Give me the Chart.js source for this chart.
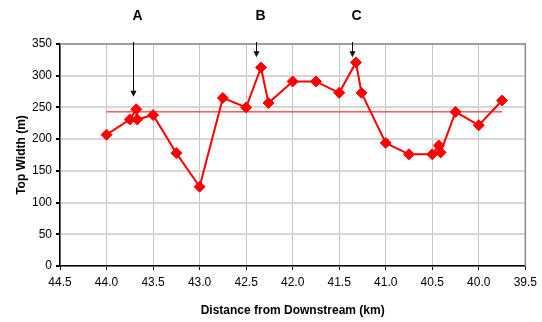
<!DOCTYPE html>
<html>
<head>
<meta charset="utf-8">
<script src="https://cdn.jsdelivr.net/npm/chart.js@4.4.0/dist/chart.umd.min.js"></script>
<style>
    body { margin: 0; background: #fff; }
    #wrap { width: 542px; height: 322px; }
</style>
</head>
<body>
<div id="wrap"><canvas id="myChart"></canvas></div>
<script>
/* values: distance (km) and top width (m) */
const distanceKm = [44.0, 43.75, 43.68, 43.67, 43.5, 43.25, 43.0, 42.75, 42.5, 42.34, 42.26, 42.0,
    41.75, 41.5, 41.32, 41.26, 41.0, 40.75, 40.5, 40.43, 40.41, 40.25, 40.0, 39.75];
const topWidth = [207, 231, 247, 231, 238, 178, 125, 265, 250, 313, 257, 291,
    291, 273, 321, 273, 194, 176, 176, 190, 179, 243, 222, 261];
const meanKm = [44.0, 39.75];
const meanWidth = [243, 243];
const markerNames = ['A', 'B', 'C'];
const markerKm = [43.72, 42.39, 41.36];
const markerTip = [267, 329, 329];
const xTicks = [44.5, 44.0, 43.5, 43.0, 42.5, 42.0, 41.5, 41.0, 40.5, 40.0, 39.5];

window.onload = function () {
    const fontName = '"Liberation Sans", Arial, sans-serif';

    const arrowsAndBox = {
        id: 'arrowsAndBox',
        afterDraw(chart) {
            const { ctx, chartArea: { top, bottom, left, right }, scales: { x, y } } = chart;
            ctx.save();
            // gray frame on top and right
            ctx.strokeStyle = '#8c8c8c';
            ctx.lineWidth = 1.5;
            ctx.beginPath();
            ctx.moveTo(left, top);
            ctx.lineTo(right, top);
            ctx.lineTo(right, bottom);
            ctx.stroke();

            ctx.strokeStyle = '#000';
            ctx.fillStyle = '#000';
            ctx.lineWidth = 1;
            for (let i = 0; i < markerNames.length; i++) {
                const px = Math.round(x.getPixelForValue(markerKm[i])) + 0.5;
                const tip = y.getPixelForValue(markerTip[i]);
                ctx.beginPath();
                ctx.moveTo(px, top - 2);
                ctx.lineTo(px, tip - 5);
                ctx.stroke();
                ctx.beginPath();
                ctx.moveTo(px - 3, tip - 6);
                ctx.lineTo(px + 3, tip - 6);
                ctx.lineTo(px, tip);
                ctx.closePath();
                ctx.fill();

                ctx.font = 'bold 14px ' + fontName;
                ctx.textAlign = 'center';
                ctx.textBaseline = 'middle';
                ctx.fillText(markerNames[i], px + 4, 16);
            }
            ctx.restore();
        }
    }

    var ctx = document.getElementById('myChart');
    var myChart = new Chart(ctx, {
        type: 'line',
        data: {
            datasets: [{
                label: 'Top Width',
                data: distanceKm.map((k, i) => ({ x: k, y: topWidth[i] })),
                borderColor: '#ff0000',
                backgroundColor: '#ff0000',
                borderWidth: 2,
                pointStyle: 'rectRot',
                pointRadius: 5.5,
                pointBorderWidth: 1,
                tension: 0,
            }, {
                label: 'Mean',
                data: meanKm.map((k, i) => ({ x: k, y: meanWidth[i] })),
                borderColor: '#ff0000',
                borderWidth: 1,
                pointRadius: 0,
                tension: 0,
            }]
        },
        options: {
            responsive: true,
            maintainAspectRatio: false,
            animation: false,
            layout: {
                padding: { left: 0, right: 16, top: 44, bottom: 0 }
            },
            plugins: {
                legend: { display: false },
                tooltip: { enabled: false }
            },
            scales: {
                x: {
                    type: 'linear',
                    reverse: true,
                    min: 39.5,
                    max: 44.5,
                    afterBuildTicks: (scale) => { scale.ticks = xTicks.map(v => ({ value: v })); },
                    afterFit: (scale) => { scale.height = 56; },
                    ticks: {
                        callback: (v) => Number(v).toFixed(1),
                        color: '#000',
                        font: { family: fontName, size: 12 },
                        padding: 5,
                        maxRotation: 0,
                    },
                    grid: { color: '#c4c4c4', lineWidth: 1, tickColor: '#000', tickLength: 4 },
                    border: { color: '#000', width: 1.5 },
                    title: {
                        display: true,
                        text: 'Distance from Downstream (km)',
                        color: '#000',
                        font: { family: fontName, size: 12, weight: 'bold' },
                        padding: { top: 8 }
                    }
                },
                y: {
                    min: 0,
                    max: 350,
                    afterFit: (scale) => { scale.width = 60; },
                    ticks: {
                        stepSize: 50,
                        color: '#000',
                        font: { family: fontName, size: 12 },
                        padding: 4,
                    },
                    grid: { color: '#d6d6d6', lineWidth: 2, tickColor: '#000', tickLength: 4 },
                    border: { color: '#000', width: 1.5 },
                    title: {
                        display: true,
                        text: 'Top Width (m)',
                        color: '#000',
                        font: { family: fontName, size: 12, weight: 'bold' },
                        padding: { top: 14, bottom: 4 }
                    }
                }
            }
        },
        plugins: [arrowsAndBox]
    })
}
</script>
</body>
</html>
